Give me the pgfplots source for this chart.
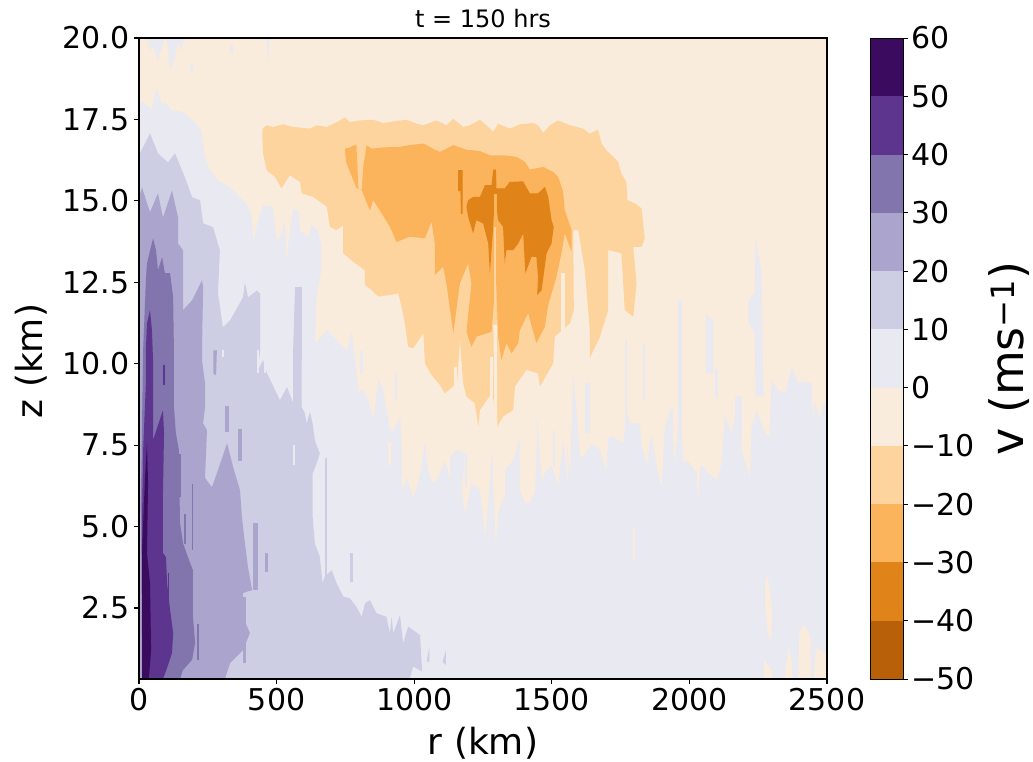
\documentclass[border=0pt]{standalone}
\usepackage{fontspec}
\setmainfont{DejaVu Sans}
\usepackage{pgfplots}
\pgfplotsset{compat=1.18}
\definecolor{a5}{HTML}{B85F0A}
\definecolor{a4}{HTML}{E08318}
\definecolor{a3}{HTML}{FBB35C}
\definecolor{a2}{HTML}{FED49E}
\definecolor{a1}{HTML}{FAECDC}
\definecolor{b0}{HTML}{E9E9F2}
\definecolor{b1}{HTML}{CDCEE4}
\definecolor{b2}{HTML}{ABA4CC}
\definecolor{b3}{HTML}{8274AC}
\definecolor{b4}{HTML}{5D358E}
\definecolor{b5}{HTML}{3B0B5F}
\pgfplotsset{reg/.style={fill=#1,draw=none,mark=none,forget plot}}
\begin{document}
\begin{tikzpicture}[x=1pt,y=1pt]
\useasboundingbox (-139,-82) rectangle (894,679);
\begin{axis}[at={(0,0)},anchor=south west,scale only axis,width=688pt,height=641pt,
  xmin=0,xmax=2500,ymin=0.32,ymax=20,axis on top,
  axis line style={line width=1.2pt},
  tick style={black,line width=1.1pt},major tick length=5pt,tick align=outside,
  xtick pos=bottom,ytick pos=left,
  xtick={0,500,1000,1500,2000,2500},xticklabels={0,500,1000,1500,2000,2500},
  ytick={2.5,5,7.5,10,12.5,15,17.5,20},yticklabels={2.5,5.0,7.5,10.0,12.5,15.0,17.5,20.0},
  ticklabel style={font=\fontsize{30}{30}\selectfont},
  yticklabel style={xshift=-1pt},
  xticklabel style={yshift=-1pt},
  xlabel={r (km)},ylabel={z (km)},
  label style={font=\fontsize{36}{36}\selectfont},
  xlabel style={at={(axis description cs:0.5,0)},anchor=north,inner sep=0pt,yshift=-48pt},
  ylabel style={at={(axis description cs:0,0.496)},anchor=south,yshift=88pt},
  title={t = 150 hrs},title style={font=\fontsize{24}{24}\selectfont,at={(axis description cs:0.5,1)},anchor=south,yshift=1pt},
  axis background/.style={fill=b0}]
% -10..0
\addplot[reg=a1] coordinates {(0,20)(2500,20)(2499,8.88)(2487,8.78)(2474,8.32)(2456,8.83)(2448,8.32)(2444,9.4)(2420,9.45)(2396,9.4)(2372,9.9)(2347,9.09)(2323,9.19)(2299,9.5)(2290,7.76)(2275,7.86)(2244,8.58)(2226,8.07)(2220,6.53)(2208,6.84)(2190,7.35)(2178,8.99)(2154,7.86)(2129,8.47)(2117,6.94)(2099,6.43)(2069,6.64)(2051,6.84)(2039,6.84)(2033,5.82)(2026,6.64)(2002,6.94)(1990,7.04)(1978,6.94)(1966,8.88)(1948,6.94)(1932,8.58)(1911,8.07)(1899,6.23)(1881,6.84)(1863,7.86)(1845,6.94)(1827,7.45)(1821,8.17)(1784,8.17)(1772,8.68)(1760,7.56)(1724,7.76)(1706,7.76)(1697,6.74)(1675,7.35)(1645,7.56)(1615,7.15)(1603,7.15)(1578,9.8)(1566,6.53)(1554,7.86)(1560,6.23)(1542,7.66)(1524,6.28)(1500,6.84)(1481,6.74)(1463,6.43)(1449,8.17)(1439,6.12)(1421,5.72)(1403,5.72)(1385,6.12)(1385,7.76)(1360,7.04)(1330,6.74)(1330,5.92)(1318,5.82)(1306,5.41)(1296,4.49)(1282,7.45)(1272,6.02)(1257,4.69)(1239,6.12)(1209,6.33)(1185,5.41)(1173,6.12)(1185,7.25)(1154,7.35)(1130,7.15)(1130,6.43)(1112,7.04)(1088,6.53)(1070,6.33)(1052,6.64)(1039,7.56)(1021,6.58)(997,5.87)(973,6.53)(957,6.02)(955,7.56)(949,8.37)(924,7.91)(910,8.07)(888,9.19)(870,9.55)(852,8.27)(834,8.88)(815,9.19)(797,9.14)(785,10.11)(773,11.03)(756,10.41)(683,11.03)(640,10.63)(645,12.05)(663,12.87)(663,13.59)(651,14.1)(627,14.25)(615,13.89)(585,14.1)(579,14.71)(560,14.76)(548,14.1)(536,13.08)(530,14.4)(518,14.0)(500,13.79)(488,14.81)(451,14.87)(433,14.4)(417,13.79)(409,14.51)(397,14.86)(367,15.12)(330,15.43)(288,15.63)(258,15.94)(239,16.35)(227,17.16)(197,17.47)(161,17.73)(118,17.78)(94,18.03)(82,17.98)(64,18.49)(46,17.83)(15,18.03)(0,18.08)} -- cycle;
% beige bits near the bottom right and in lavender
\addplot[reg=a1] coordinates {(2275,3.3)(2285,3.5)(2300,2.5)(2298,1.5)(2285,1.7)(2275,2.5)} -- cycle;
\addplot[reg=a1] coordinates {(2270,0.32)(2272,0.9)(2300,0.6)(2300,0.32)} -- cycle;
\addplot[reg=a1] coordinates {(2345,0.32)(2360,1.3)(2372,0.9)(2375,0.32)} -- cycle;
\addplot[reg=a1] coordinates {(2395,0.32)(2400,1.8)(2420,2.0)(2440,1.6)(2442,0.32)} -- cycle;
\addplot[reg=a1] coordinates {(2450,0.32)(2460,1.3)(2495,1.1)(2500,1.6)(2500,0.32)} -- cycle;
\addplot[reg=a1] coordinates {(1795,4.9)(1802,5.0)(1802,3.9)(1795,4.0)} -- cycle;
\addplot[reg=a1] coordinates {(905,7.6)(915,7.6)(915,6.9)(905,6.9)} -- cycle;
% lavender strips
\addplot[reg=b0] coordinates {(33,20)(40,19.6)(51,19.77)(69,19.31)(84,19.77)(94,20)(102,20)(113,19.0)(131,19.4)(142,19.9)(149,19.6)(167,20)} -- cycle;
\addplot[reg=b0] coordinates {(462,20)(474,20)(470,19.2)} -- cycle;
\addplot[reg=b0] coordinates {(332,19.8)(340,19.8)(340,19.55)(332,19.55)} -- cycle;
\addplot[reg=b0] coordinates {(187,19.2)(195,19.2)(195,19.0)(187,19.0)} -- cycle;
\addplot[reg=b0] coordinates {(1960,11.95)(1972,11.95)(1972,7.04)(1960,7.04)} -- cycle;
\addplot[reg=b0] coordinates {(1766,10.72)(1774,10.72)(1774,8.17)(1766,8.17)} -- cycle;
\addplot[reg=b0] coordinates {(1833,10.6)(1839,10.6)(1839,8.9)(1833,8.9)} -- cycle;
\addplot[reg=b0] coordinates {(2060,11.54)(2087,11.3)(2087,9.7)(2060,9.7)} -- cycle;
\addplot[reg=b0] coordinates {(2093,9.8)(2105,9.8)(2105,8.99)(2093,8.99)} -- cycle;
\addplot[reg=b0] coordinates {(2240,13.9)(2262,12.8)(2269,9.0)(2240,9.0)(2238,10.9)(2214,11.3)(2214,11.95)(2238,12.2)} -- cycle;
\addplot[reg=b0] coordinates {(1621,9.4)(1639,9.4)(1639,7.86)(1621,7.86)} -- cycle;
\addplot[reg=b0] coordinates {(2166,9.0)(2190,9.0)(2190,7.6)(2166,7.6)} -- cycle;
\addplot[reg=b0] coordinates {(1930,8.6)(1942,8.6)(1942,7.1)(1930,7.1)} -- cycle;
\addplot[reg=b0] coordinates {(1506,7.97)(1512,7.97)(1512,6.84)(1506,6.84)} -- cycle;
\addplot[reg=b0] coordinates {(1445,8.27)(1450,8.27)(1450,6.64)(1445,6.64)} -- cycle;
\addplot[reg=b0] coordinates {(1185,7.25)(1191,7.25)(1191,6.2)(1185,6.2)} -- cycle;
\addplot[reg=b0] coordinates {(1035,7.55)(1043,7.55)(1043,6.75)(1035,6.75)} -- cycle;
\addplot[reg=b0] coordinates {(930,9.7)(937,9.7)(937,8.9)(930,8.9)} -- cycle;
\addplot[reg=b0] coordinates {(803,10.4)(815,10.4)(815,9.7)(803,9.7)} -- cycle;
% -20..-10
\addplot[reg=a2] coordinates {(449,17.22)(464,17.32)(488,17.27)(524,17.35)(560,17.27)(621,17.22)(645,17.32)(682,17.27)(720,17.42)(748,17.56)(766,17.42)(803,17.47)(851,17.49)(887,17.39)(936,17.45)(972,17.49)(1009,17.37)(1033,17.32)(1081,17.47)(1117,17.32)(1142,17.52)(1178,17.27)(1202,17.32)(1239,17.49)(1263,17.32)(1287,17.12)(1305,17.37)(1348,17.22)(1384,17.35)(1432,17.39)(1450,17.32)(1469,17.09)(1493,17.32)(1523,17.47)(1566,17.32)(1614,17.22)(1638,17.06)(1668,17.19)(1681,16.76)(1699,16.55)(1711,16.45)(1741,16.2)(1753,15.84)(1771,15.58)(1775,15.02)(1802,14.92)(1826,14.77)(1832,14.3)(1838,13.85)(1826,13.59)(1796,13.59)(1808,12.47)(1796,11.44)(1765,11.65)(1753,13.39)(1705,13.49)(1705,11.65)(1675,10.83)(1638,10.17)(1638,11.03)(1620,12.87)(1596,14.1)(1578,14.1)(1580,11.65)(1566,11.24)(1511,10.83)(1505,10.01)(1457,9.3)(1450,9.7)(1408,9.81)(1366,9.3)(1360,8.58)(1323,8.38)(1299,8.02)(1291,8.79)(1281,9.09)(1239,8.58)(1233,8.07)(1220,8.79)(1190,8.99)(1178,9.4)(1166,10.73)(1156,9.4)(1111,9.09)(1093,9.35)(1063,9.65)(1039,10.01)(1033,10.93)(996,10.47)(978,10.52)(966,11.24)(954,11.75)(942,12.16)(912,12.11)(869,12.06)(839,12.31)(821,12.41)(821,12.87)(778,13.13)(742,13.39)(742,14.25)(718,14.1)(694,14.2)(682,14.82)(633,15.12)(591,15.23)(585,15.58)(548,15.79)(518,15.38)(494,15.74)(464,15.94)(451,16.45)(448,16.96)} -- cycle;
\addplot[reg=a2] coordinates {(1668,13.5)(1686,13.5)(1686,12.87)(1668,12.87)} -- cycle;
\addplot[reg=a1] coordinates {(1535,12.77)(1548,12.77)(1548,10.42)(1535,10.42)} -- cycle;
\addplot[reg=a1] coordinates {(1275,10.2)(1285,10.2)(1285,9.0)(1275,9.0)} -- cycle;
\addplot[reg=a1] coordinates {(1144,9.9)(1154,9.9)(1154,9.3)(1144,9.3)} -- cycle;
% -30..-20
\addplot[reg=a3] coordinates {(748,16.6)(766,16.64)(790,16.73)(797,15.38)(809,15.33)(815,16.04)(827,16.71)(845,16.6)(887,16.64)(948,16.66)(984,16.71)(1033,16.76)(1069,16.6)(1093,16.5)(1142,16.71)(1190,16.57)(1239,16.53)(1275,16.4)(1323,16.4)(1372,16.35)(1402,16.2)(1420,15.96)(1469,16.04)(1505,15.89)(1523,15.74)(1541,15.28)(1547,14.71)(1572,14.1)(1572,13.44)(1547,14.0)(1535,13.39)(1517,12.67)(1487,11.8)(1475,11.14)(1444,10.63)(1414,11.55)(1384,11.03)(1378,10.63)(1354,10.32)(1335,10.63)(1317,10.11)(1305,10.83)(1297,12.67)(1281,10.98)(1226,10.83)(1208,10.52)(1190,10.98)(1208,12.47)(1196,13.08)(1166,12.47)(1142,10.93)(1117,12.47)(1105,12.98)(1075,12.72)(1075,13.69)(1063,14.36)(1039,13.85)(984,13.9)(936,13.74)(912,14.2)(875,14.71)(851,15.02)(839,14.71)(809,15.33)(790,15.4)(766,15.9)(752,16.2)} -- cycle;
% -40..-30
\addplot[reg=a4] coordinates {(1196,15.02)(1214,15.12)(1239,15.12)(1257,15.48)(1281,15.48)(1287,15.96)(1297,15.96)(1299,15.38)(1329,15.38)(1347,15.58)(1396,15.6)(1420,15.23)(1450,15.23)(1475,15.43)(1487,15.12)(1499,14.41)(1507,14.2)(1499,13.69)(1481,13.39)(1463,12.26)(1447,12.11)(1450,12.67)(1444,13.28)(1426,13.28)(1404,12.77)(1396,14.0)(1378,13.69)(1360,13.49)(1335,13.49)(1329,13.08)(1323,14.2)(1305,14.41)(1293,15.2)(1287,14.2)(1275,12.77)(1269,13.69)(1251,14.3)(1226,14.41)(1214,14.0)(1196,14.51)(1190,14.82)} -- cycle;
\addplot[reg=a4] coordinates {(1160,15.94)(1176,15.94)(1176,14.6)(1170,14.6)(1168,15.3)(1160,15.3)} -- cycle;
% slit
\addplot[reg=a3] coordinates {(1291,15.2)(1300,15.2)(1300,14)(1291,14)} -- cycle;
\addplot[reg=a2] coordinates {(1289,14.2)(1298,14.2)(1298,11)(1289,11)} -- cycle;
\addplot[reg=a1] coordinates {(1288,11.2)(1300,11.2)(1302,7.9)(1292,7.9)} -- cycle;
% 10..20
\addplot[reg=b1] coordinates {(0,0.32)(0,16.4)(40,17.07)(69,16.46)(105,16.18)(131,16.46)(167,15.72)(193,15.11)(222,15.02)(233,14.31)(269,14.19)(294,13.48)(287,12.16)(305,11.12)(331,11.33)(378,12.04)(385,12.5)(396,12.04)(429,12.25)(440,12.16)(440,10.41)(432,9.8)(451,10.11)(465,9.71)(512,8.88)(538,9.28)(560,8.79)(560,10.41)(567,12.35)(592,12.35)(591,8.67)(603,8.47)(609,8.16)(621,8.52)(631,8.16)(639,7.65)(657,7.24)(645,6.93)(631,6.63)(631,5.3)(639,4.48)(657,4.07)(667,3.26)(675,3.46)(700,3.66)(718,3.26)(742,2.85)(766,2.8)(790,2.54)(809,2.23)(821,2.64)(839,2.74)(863,2.34)(899,2.23)(912,1.72)(918,2.23)(924,1.72)(948,2.28)(960,1.42)(978,1.93)(1021,1.67)(1029,0.55)(996,0.7)(984,0.32)} -- cycle;
\addplot[reg=b1] coordinates {(1045,0.85)(1055,1.3)(1055,0.85)} -- cycle;
\addplot[reg=b1] coordinates {(1103,0.85)(1115,1.2)(1115,0.75)} -- cycle;
\addplot[reg=b1] coordinates {(676,7.1)(683,7.1)(683,3.3)(676,3.3)} -- cycle;
\addplot[reg=b1] coordinates {(766,4.2)(778,4.2)(778,3.3)(766,3.3)} -- cycle;
\addplot[reg=b0] coordinates {(427,10.41)(437,10.41)(437,9.7)(427,9.7)} -- cycle;
\addplot[reg=b0] coordinates {(454,10.41)(463,10.41)(463,9.7)(454,9.7)} -- cycle;
\addplot[reg=b0] coordinates {(482,10.41)(494,10.41)(494,9.8)(482,9.8)} -- cycle;
\addplot[reg=b0] coordinates {(560,7.5)(566,7.5)(566,6.9)(560,6.9)} -- cycle;
\addplot[reg=b0] coordinates {(300,10.41)(310,10.41)(310,10.2)(300,10.2)} -- cycle;
% 20..30
\addplot[reg=b2] coordinates {(0,0.32)(0,15.11)(11,15.41)(40,14.65)(69,15.23)(87,14.49)(120,15.32)(142,14.49)(142,13.7)(160,13.48)(160,11.64)(193,11.95)(229,12.56)(233,12.35)(229,10.5)(229,10.11)(240,9.4)(240,8.67)(233,8.17)(247,7.96)(240,6.49)(265,6.21)(287,6.73)(320,7.56)(342,6.83)(367,6.12)(374,5.29)(385,4.49)(396,3.76)(411,3.05)(378,2.96)(378,2.22)(403,1.73)(378,1.21)(331,0.81)(312,0.32)} -- cycle;
\addplot[reg=b2] coordinates {(270,10.41)(283,10.41)(280,9.64)(270,9.7)} -- cycle;
\addplot[reg=b2] coordinates {(313,8.7)(327,8.7)(327,7.9)(313,7.9)} -- cycle;
\addplot[reg=b2] coordinates {(360,8.0)(373,8.0)(373,7.0)(360,7.0)} -- cycle;
\addplot[reg=b2] coordinates {(415,5.1)(433,5.1)(433,3.05)(415,3.05)} -- cycle;
\addplot[reg=b2] coordinates {(458,4.2)(470,4.2)(470,3.6)(458,3.6)} -- cycle;
\addplot[reg=b2] coordinates {(379,2.85)(390,2.85)(390,0.8)(379,0.8)} -- cycle;
% 30..40
\addplot[reg=b3] coordinates {(11,0.32)(7,5.81)(15,10.41)(25,12.56)(29,13.08)(51,13.85)(62,13.48)(69,12.87)(84,13.27)(94,12.78)(113,12.78)(124,12.04)(127,10.41)(127,8.67)(134,7.87)(145,7.35)(149,5.11)(160,4.49)(178,4.06)(196,3.66)(196,2.22)(204,1.43)(193,0.91)(160,0.6)(149,0.32)} -- cycle;
\addplot[reg=b3] coordinates {(145,7.24)(152,7.24)(152,5.9)(145,5.9)} -- cycle;
\addplot[reg=b3] coordinates {(191,6.3)(197,6.3)(197,4.28)(191,4.28)} -- cycle;
\addplot[reg=b3] coordinates {(165,5.4)(172,5.4)(172,4.48)(165,4.48)} -- cycle;
\addplot[reg=b3] coordinates {(210,2)(218,2)(218,0.9)(210,0.9)} -- cycle;
% 40..50
\addplot[reg=b4] coordinates {(29,11.24)(40,11.64)(47,11.03)(51,10.11)(51,7.65)(87,8.57)(91,7.87)(87,5.99)(87,4.19)(98,4.06)(102,3.27)(113,2.44)(124,1.73)(120,1.12)(102,0.66)(87,0.32)(11,0.32)(11,5.29)(15,7.35)(25,9.4)(25,10.41)} -- cycle;
\addplot[reg=b4] coordinates {(88,9.95)(96,9.95)(96,9.35)(88,9.35)} -- cycle;
\addplot[reg=b4] coordinates {(104,3.56)(110,3.56)(110,2.44)(104,2.44)} -- cycle;
% 50..60
\addplot[reg=b5] coordinates {(11,0.32)(11,4.28)(22,6.52)(29,7.56)(33,6.33)(29,4.19)(40,3.27)(44,1.21)(36,0.32)} -- cycle;
\end{axis}
\begin{axis}[at={(731.5pt,0)},anchor=south west,scale only axis,width=32.5pt,height=641pt,
  xmin=0,xmax=1,ymin=-50,ymax=60,axis on top,xtick=\empty,
  axis line style={line width=0.8pt},
  ytick pos=right,tick align=outside,tick style={black,line width=0.9pt},major tick length=5pt,
  ytick={-50,-40,-30,-20,-10,0,10,20,30,40,50,60},
  yticklabels={−50,−40,−30,−20,−10,0,10,20,30,40,50,60},
  ticklabel style={font=\fontsize{30}{30}\selectfont},
  yticklabel style={anchor=west,xshift=0pt},
  ylabel={v (ms\textsuperscript{−1})},
  ylabel style={font=\fontsize{46}{46}\selectfont,at={(axis description cs:1,0.5)},anchor=north,rotate=0,yshift=-82pt}]
\addplot[reg=a5] coordinates {(0,-50)(1,-50)(1,-40)(0,-40)} -- cycle;
\addplot[reg=a4] coordinates {(0,-40)(1,-40)(1,-30)(0,-30)} -- cycle;
\addplot[reg=a3] coordinates {(0,-30)(1,-30)(1,-20)(0,-20)} -- cycle;
\addplot[reg=a2] coordinates {(0,-20)(1,-20)(1,-10)(0,-10)} -- cycle;
\addplot[reg=a1] coordinates {(0,-10)(1,-10)(1,0)(0,0)} -- cycle;
\addplot[reg=b0] coordinates {(0,0)(1,0)(1,10)(0,10)} -- cycle;
\addplot[reg=b1] coordinates {(0,10)(1,10)(1,20)(0,20)} -- cycle;
\addplot[reg=b2] coordinates {(0,20)(1,20)(1,30)(0,30)} -- cycle;
\addplot[reg=b3] coordinates {(0,30)(1,30)(1,40)(0,40)} -- cycle;
\addplot[reg=b4] coordinates {(0,40)(1,40)(1,50)(0,50)} -- cycle;
\addplot[reg=b5] coordinates {(0,50)(1,50)(1,60)(0,60)} -- cycle;
\end{axis}
\end{tikzpicture}
\end{document}
